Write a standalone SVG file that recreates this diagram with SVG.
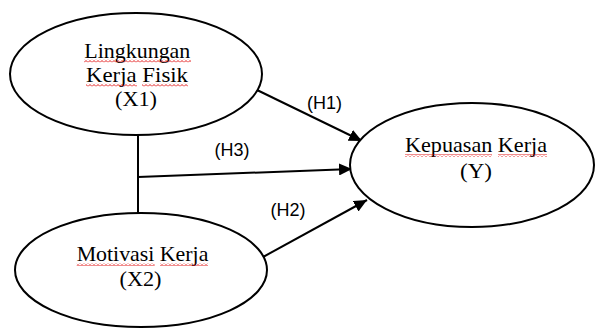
<svg xmlns="http://www.w3.org/2000/svg" width="595" height="331" viewBox="0 0 595 331">
<style>
.node{fill:#fff;stroke:#000;stroke-width:2}
.t{font-family:"Liberation Serif","Times New Roman",serif;font-size:21px;fill:#000;text-anchor:middle}
.h{font-family:"Liberation Sans",Arial,sans-serif;font-size:18px;fill:#000;text-anchor:middle}
.c{stroke:#000;stroke-width:2;fill:none}
.sq{fill:url(#wave)}
</style>
<defs>
<marker id="ah" markerUnits="userSpaceOnUse" markerWidth="14" markerHeight="12" refX="13" refY="6" orient="auto">
<path d="M0,0 L13,6 L0,12 Z" fill="#000"/>
</marker>
<pattern id="wave" patternUnits="userSpaceOnUse" width="4" height="3">
<path d="M0,2.5 L2,0.5 L4,2.5" fill="none" stroke="#e00000" stroke-width="0.9"/>
</pattern>
</defs>
<rect width="595" height="331" fill="#fff"/>
<g id="connectors">
<line class="c" x1="138" y1="135" x2="138" y2="213"/>
<line class="c" x1="138" y1="177" x2="352" y2="169" marker-end="url(#ah)"/>
<line class="c" x1="257" y1="90" x2="362" y2="141" marker-end="url(#ah)"/>
<line class="c" x1="263" y1="257" x2="367" y2="200" marker-end="url(#ah)"/>
<text class="h" x="324.5" y="109">(H1)</text>
<text class="h" x="232" y="156">(H3)</text>
<text class="h" x="288" y="216">(H2)</text>
</g>
<g id="x1">
<ellipse class="node" cx="136" cy="74" rx="126" ry="61"/>
<text class="t" x="137.3" y="57.5" textLength="106" lengthAdjust="spacingAndGlyphs">Lingkungan</text>
<text class="t" x="137" y="81.7" textLength="102" lengthAdjust="spacingAndGlyphs">Kerja Fisik</text>
<text class="t" x="136" y="106" textLength="42" lengthAdjust="spacingAndGlyphs">(X1)</text>
<rect class="sq" x="84" y="59.5" width="107" height="3"/>
<rect class="sq" x="86" y="83.7" width="51" height="3"/>
<rect class="sq" x="142" y="83.7" width="46" height="3"/>
</g>
<g id="x2">
<ellipse class="node" cx="141" cy="270" rx="126" ry="57"/>
<text class="t" x="142.5" y="261" textLength="131.7" lengthAdjust="spacingAndGlyphs">Motivasi Kerja</text>
<text class="t" x="140.5" y="286" textLength="42" lengthAdjust="spacingAndGlyphs">(X2)</text>
<rect class="sq" x="76.7" y="263" width="78" height="3"/>
<rect class="sq" x="160" y="263" width="48" height="3"/>
</g>
<g id="y">
<ellipse class="node" cx="472" cy="165" rx="122" ry="62"/>
<text class="t" x="476" y="152" textLength="142" lengthAdjust="spacingAndGlyphs">Kepuasan Kerja</text>
<text class="t" x="476" y="178" textLength="32" lengthAdjust="spacingAndGlyphs">(Y)</text>
<rect class="sq" x="405" y="154" width="87" height="3"/>
<rect class="sq" x="498" y="154" width="49" height="3"/>
</g>
</svg>
